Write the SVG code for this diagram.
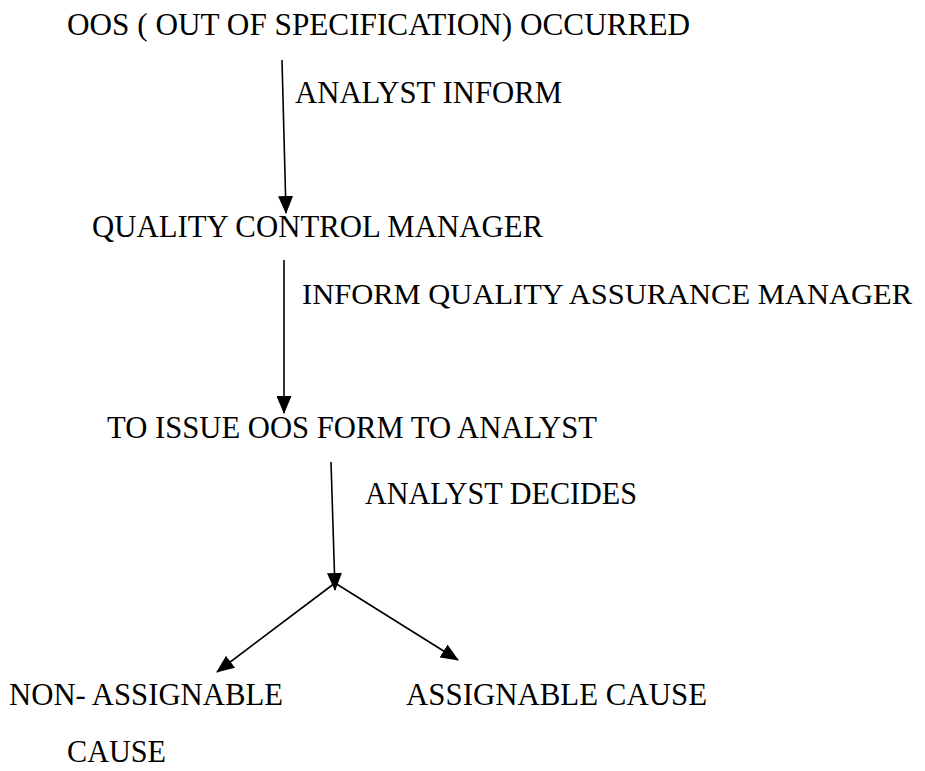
<svg xmlns="http://www.w3.org/2000/svg" width="925" height="771" viewBox="0 0 925 771">
<style>
text{font-family:"Liberation Serif","Times New Roman",serif;font-size:32px;fill:#000}
.c{stroke:#000;stroke-width:1.6;fill:none}
</style>
<defs>
<marker id="a" markerWidth="18" markerHeight="15" refX="17" refY="7.5" orient="auto" markerUnits="userSpaceOnUse" viewBox="0 0 18 15">
<path d="M0,0 L18,7.5 L0,15 z" fill="#000"/>
</marker>
</defs>
<rect width="925" height="771" fill="#fff"/>
<g id="n1"><text x="67" y="35" textLength="623" lengthAdjust="spacingAndGlyphs">OOS ( OUT OF SPECIFICATION) OCCURRED</text></g>
<g id="n2"><text x="92" y="237" textLength="451" lengthAdjust="spacingAndGlyphs">QUALITY CONTROL MANAGER</text></g>
<g id="n3"><text x="107" y="438" textLength="490" lengthAdjust="spacingAndGlyphs">TO ISSUE OOS FORM TO ANALYST</text></g>
<g id="n4"><text x="9" y="705" textLength="274" lengthAdjust="spacingAndGlyphs">NON- ASSIGNABLE</text><text x="67" y="762" textLength="99" lengthAdjust="spacingAndGlyphs">CAUSE</text></g>
<g id="n5"><text x="406" y="705" textLength="301" lengthAdjust="spacingAndGlyphs">ASSIGNABLE CAUSE</text></g>
<g id="connectors">
<line class="c" x1="282" y1="60" x2="286" y2="213" marker-end="url(#a)"/>
<text x="295" y="103" textLength="267" lengthAdjust="spacingAndGlyphs">ANALYST INFORM</text>
<line class="c" x1="284" y1="260" x2="284" y2="413" marker-end="url(#a)"/>
<text x="302" y="304" style="font-size:30px" textLength="610" lengthAdjust="spacingAndGlyphs">INFORM QUALITY ASSURANCE MANAGER</text>
<line class="c" x1="331" y1="462" x2="335" y2="590" marker-end="url(#a)"/>
<text x="365" y="504" textLength="272" lengthAdjust="spacingAndGlyphs">ANALYST DECIDES</text>
<line class="c" x1="335" y1="583" x2="217" y2="672" marker-end="url(#a)"/>
<line class="c" x1="335" y1="583" x2="458" y2="660" marker-end="url(#a)"/>
</g>
</svg>
